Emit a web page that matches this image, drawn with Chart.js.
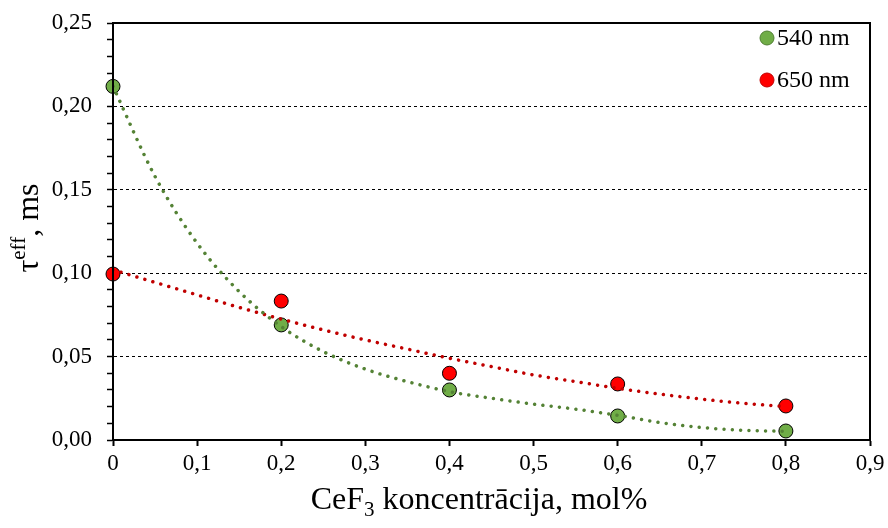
<!DOCTYPE html>
<html>
<head>
<meta charset="utf-8">
<script src="https://cdn.jsdelivr.net/npm/chart.js@4"></script>
<style>
  body { margin: 0; background: #fff; }
</style>
</head>
<body>
<canvas id="myChart" width="888" height="528"></canvas>
<script>
// measured points
const conc = [0, 0.2, 0.4, 0.6, 0.8]
const tau540 = [0.212, 0.069, 0.030, 0.0144, 0.0054]
const tau650 = [0.0995, 0.0833, 0.040, 0.0336, 0.0204]

// trend lines
const trendX = [0, 0.05, 0.1, 0.15, 0.2, 0.25, 0.3, 0.35, 0.4, 0.45, 0.5, 0.55, 0.6, 0.65, 0.7, 0.75, 0.8]
const trend540 = [0.212, 0.158, 0.118, 0.089, 0.068, 0.053, 0.0425, 0.035, 0.029, 0.025, 0.0215, 0.0185, 0.0148, 0.0105, 0.0075, 0.0058, 0.0052]
const trend650 = [0.102, 0.0945, 0.087, 0.0795, 0.0725, 0.066, 0.060, 0.0545, 0.049, 0.044, 0.039, 0.035, 0.031, 0.0275, 0.0245, 0.022, 0.020]

const seriesLabels = ['540 nm', '650 nm']
const xTitle = ['CeF', '3', ' koncentrācija, mol%']
const yTitle = ['τ', 'eff', ', ms']

const font = 'Liberation Serif'
const toPts = (xs, ys) => xs.map((x, i) => ({x, y: ys[i]}))
const comma = v => v === 0 ? '0' : v.toFixed(1).replace('.', ',')

//draws frame, legend and the axis titles with sub/superscripts
const extras = {
    id: 'extras',
    afterDraw(chart) {
        const {ctx, chartArea: a} = chart
        ctx.save()
        ctx.strokeStyle = '#000'
        ctx.lineWidth = 2
        ctx.strokeRect(a.left, a.top, a.right - a.left, a.bottom - a.top)

        // legend
        const legend = [
            {text: seriesLabels[0], fill: '#70AD47', edge: '#507e32', y: 38},
            {text: seriesLabels[1], fill: '#FF0000', edge: '#c00000', y: 80}
        ]
        ctx.font = '24px "' + font + '"'
        ctx.textBaseline = 'middle'
        ctx.textAlign = 'left'
        legend.forEach(l => {
            ctx.beginPath()
            ctx.arc(767, l.y, 7, 0, Math.PI * 2)
            ctx.fillStyle = l.fill
            ctx.fill()
            ctx.lineWidth = 1
            ctx.strokeStyle = l.edge
            ctx.stroke()
            ctx.fillStyle = '#000'
            ctx.fillText(l.text, 777, l.y + 1)
        })

        // x title with subscript
        ctx.textBaseline = 'alphabetic'
        const big = '32px "' + font + '"', small = '21px "' + font + '"'
        ctx.font = big
        let w0 = ctx.measureText(xTitle[0]).width
        let w2 = ctx.measureText(xTitle[2]).width
        ctx.font = small
        let w1 = ctx.measureText(xTitle[1]).width
        let x = 479 - (w0 + w1 + w2) / 2
        const by = 509
        ctx.font = big
        ctx.fillText(xTitle[0], x, by)
        ctx.font = small
        ctx.fillText(xTitle[1], x + w0, by + 7)
        ctx.font = big
        ctx.fillText(xTitle[2], x + w0 + w1, by)

        // y title with superscript, rotated
        ctx.translate(38, 228)
        ctx.rotate(-Math.PI / 2)
        ctx.font = big
        w0 = ctx.measureText(yTitle[0]).width
        w2 = ctx.measureText(yTitle[2]).width
        ctx.font = small
        w1 = ctx.measureText(yTitle[1]).width
        x = -(w0 + w1 + w2) / 2
        ctx.font = big
        ctx.fillText(yTitle[0], x, 0)
        ctx.font = small
        ctx.fillText(yTitle[1], x + w0, -13)
        ctx.font = big
        ctx.fillText(yTitle[2], x + w0 + w1, 0)
        ctx.restore()
    }
}

const trendStyle = color => ({
    type: 'line',
    borderColor: color,
    borderWidth: 3.5,
    borderDash: [0.01, 8.3],
    borderCapStyle: 'round',
    pointRadius: 0,
    cubicInterpolationMode: 'monotone',
    fill: false
})

const config = {
    type: 'scatter',
    data: {
        datasets: [
            {...trendStyle('#548235'), label: 'trend540', data: toPts(trendX, trend540)},
            {...trendStyle('#C00000'), label: 'trend650', data: toPts(trendX, trend650)},
            {
                label: seriesLabels[0],
                data: toPts(conc, tau540),
                backgroundColor: '#70AD47',
                borderColor: '#000',
                borderWidth: 1,
                pointRadius: 7,
                clip: false
            },
            {
                label: seriesLabels[1],
                data: toPts(conc, tau650),
                backgroundColor: '#FF0000',
                borderColor: '#000',
                borderWidth: 1,
                pointRadius: 7,
                clip: false
            }
        ]
    },
    options: {
        responsive: false,
        animation: false,
        devicePixelRatio: 1,
        layout: {padding: {top: 23, right: 18, left: 0, bottom: 0}},
        plugins: {legend: {display: false}, tooltip: {enabled: false}},
        scales: {
            x: {
                type: 'linear',
                min: 0, max: 0.9,
                afterFit: s => { s.height = 88; s.paddingLeft = 0; s.paddingRight = 0 },
                ticks: {
                    stepSize: 0.1,
                    color: '#000',
                    padding: 4,
                    maxRotation: 0,
                    font: {family: font, size: 23},
                    callback: v => comma(Math.round(v * 10) / 10)
                },
                grid: {drawOnChartArea: false, tickLength: 6, tickColor: '#000', tickWidth: 2},
                border: {color: '#000', width: 2}
            },
            y: {
                min: 0, max: 0.25,
                afterFit: s => { s.width = 113; s.paddingTop = 0; s.paddingBottom = 0 },
                ticks: {
                    stepSize: 0.01,
                    color: '#000',
                    padding: 15,
                    autoSkip: false,
                    font: {family: font, size: 23},
                    callback: v => {
                        const h = Math.round(v * 100)
                        return h % 5 === 0 ? (h / 100).toFixed(2).replace('.', ',') : ''
                    }
                },
                grid: {
                    tickLength: 6,
                    tickColor: '#000',
                    tickWidth: 1.5,
                    lineWidth: 1,
                    color: c => {
                        const h = Math.round(c.tick.value * 100)
                        return (h % 5 === 0 && h > 0 && h < 25) ? '#000' : 'rgba(0,0,0,0)'
                    }
                },
                border: {color: '#000', width: 2, dash: [3, 3]}
            }
        }
    },
    plugins: [extras]
}

new Chart(document.getElementById('myChart'), config)
</script>
</body>
</html>
